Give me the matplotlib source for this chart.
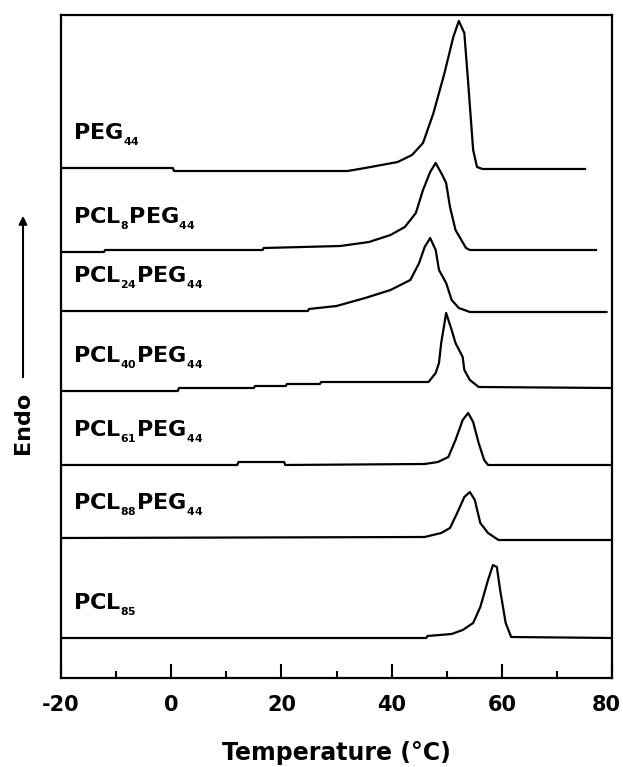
import matplotlib
matplotlib.use("Agg")
import matplotlib.pyplot as plt
import matplotlib.transforms as mtransforms

plt.rcParams['font.family'] = ['DejaVu Sans']
plt.rcParams['font.weight'] = 'bold'
plt.rcParams['mathtext.fontset'] = 'dejavusans'
plt.rcParams['axes.unicode_minus'] = False

# DSC heating traces (temperature in C, heat flow in a.u. incl. stacking offset)
t_peg = [-20, 0.3, 0.5, 32, 35.2, 41.1, 43.7, 45.7, 47.6, 49.6, 51.2, 52.2, 53.2, 53.9, 54.8, 55.5, 56.5, 75.1]
h_peg = [510, 510, 507, 507, 510, 516, 523, 535, 565, 605, 641, 657, 645, 595, 528, 511, 509, 509]

t_pcl8 = [-20, -12.2, -12, 16.6, 16.8, 30.7, 35.9, 39.8, 42.4, 44.4, 45.7, 47.0, 48.0, 49.2, 49.9, 50.6, 51.6, 53.5, 54.2, 77.1]
h_pcl8 = [426, 426, 428, 428, 430, 432, 436, 443, 451, 465, 488, 506, 515, 503, 495, 471, 448, 430, 428, 428]

t_pcl24 = [-20, 24.8, 25.0, 30, 35.2, 39.8, 43.4, 45.0, 46.0, 47.0, 48.0, 48.6, 49.9, 50.9, 52.2, 54.2, 79.0]
h_pcl24 = [367, 367, 369, 372, 380, 388, 398, 415, 431, 440, 428, 408, 395, 378, 370, 366, 366]

t_pcl40 = [-20, 1.2, 1.4, 15, 15.2, 20.8, 21.0, 27, 27.2, 46.7, 48.0, 48.6, 49.0, 49.9, 50.9, 51.6, 52.9, 53.2, 54.2, 55.8, 79.7]
h_pcl40 = [287, 287, 290, 290, 292, 292, 294, 294, 296, 296, 305, 315, 335, 365, 348, 335, 321, 308, 298, 291, 290]

t_pcl61 = [-20, 12, 12.2, 20.5, 20.7, 46, 48.4, 50.3, 51.6, 52.9, 53.9, 54.8, 55.8, 56.8, 57.5, 80]
h_pcl61 = [213, 213, 216, 216, 213, 214, 216, 221, 238, 258, 265, 256, 235, 218, 213, 213]

t_pcl88 = [-20, 46, 49, 50.6, 51.9, 53.2, 54.2, 55.1, 56.1, 57.5, 59.4, 80]
h_pcl88 = [140, 141, 145, 150, 165, 181, 186, 178, 155, 145, 138, 138]

t_pcl85 = [-20, 46.3, 46.5, 50.9, 52.9, 54.8, 56.1, 57.5, 58.4, 59.1, 59.7, 60.7, 61.7, 80]
h_pcl85 = [40, 40, 42, 44, 48, 55, 71, 98, 113, 111, 88, 55, 41, 40]

labels = [
    r'$\mathbf{PEG}_{{}_{\mathbf{44}}}$',
    r'$\mathbf{PCL}_{{}_{\mathbf{8}}}\mathbf{PEG}_{{}_{\mathbf{44}}}$',
    r'$\mathbf{PCL}_{{}_{\mathbf{24}}}\mathbf{PEG}_{{}_{\mathbf{44}}}$',
    r'$\mathbf{PCL}_{{}_{\mathbf{40}}}\mathbf{PEG}_{{}_{\mathbf{44}}}$',
    r'$\mathbf{PCL}_{{}_{\mathbf{61}}}\mathbf{PEG}_{{}_{\mathbf{44}}}$',
    r'$\mathbf{PCL}_{{}_{\mathbf{88}}}\mathbf{PEG}_{{}_{\mathbf{44}}}$',
    r'$\mathbf{PCL}_{{}_{\mathbf{85}}}$',
]
curves = [(t_peg, h_peg), (t_pcl8, h_pcl8), (t_pcl24, h_pcl24), (t_pcl40, h_pcl40),
          (t_pcl61, h_pcl61), (t_pcl88, h_pcl88), (t_pcl85, h_pcl85)]

fig = plt.figure(figsize=(6.23, 7.67), dpi=100)
ax = fig.add_axes([61 / 623, 1 - 678 / 767, 551 / 623, 663 / 767])

for (t, h), lab in zip(curves, labels):
    ax.plot(t, h, color='black', lw=1.6)
    ax.annotate(lab, xy=(t[0], h[0]), xytext=(12, 28), textcoords='offset pixels',
                fontsize=16, va='baseline', ha='left')

ax.set_xlim(-20, 80)
ax.set_ylim(0, 663)
ax.set_xticks([-20, 0, 20, 40, 60, 80])
ax.set_xticks([-10, 10, 30, 50, 70], minor=True)
ax.set_yticks([])
ax.tick_params(axis='x', which='major', direction='in', length=10, width=1.5,
               labelsize=15, pad=12)
ax.tick_params(axis='x', which='minor', direction='in', length=5, width=1.5)
for lab in ax.get_xticklabels():
    lab.set_fontweight('bold')
for s in ax.spines.values():
    s.set_linewidth(1.6)

# the "80" label sits right at the figure edge; nudge it in a little
last = ax.xaxis.get_major_ticks()[-1].label1
last.set_transform(last.get_transform() + mtransforms.ScaledTranslation(-0.06, 0, fig.dpi_scale_trans))

ax.set_xlabel('Temperature (°C)', fontsize=17, fontweight='bold', labelpad=19)

# Endo arrow on the left
fig.patches.append(matplotlib.patches.FancyArrowPatch(
    (23 / 623, 1 - 380 / 767), (23 / 623, 1 - 213 / 767), transform=fig.transFigure,
    arrowstyle='-|>', mutation_scale=12, lw=1.5, color='black'))
fig.text(23 / 623, 1 - 423 / 767, 'Endo', rotation=90, ha='center', va='center',
         fontsize=16, fontweight='bold')

fig.savefig('out.png', dpi=100)
